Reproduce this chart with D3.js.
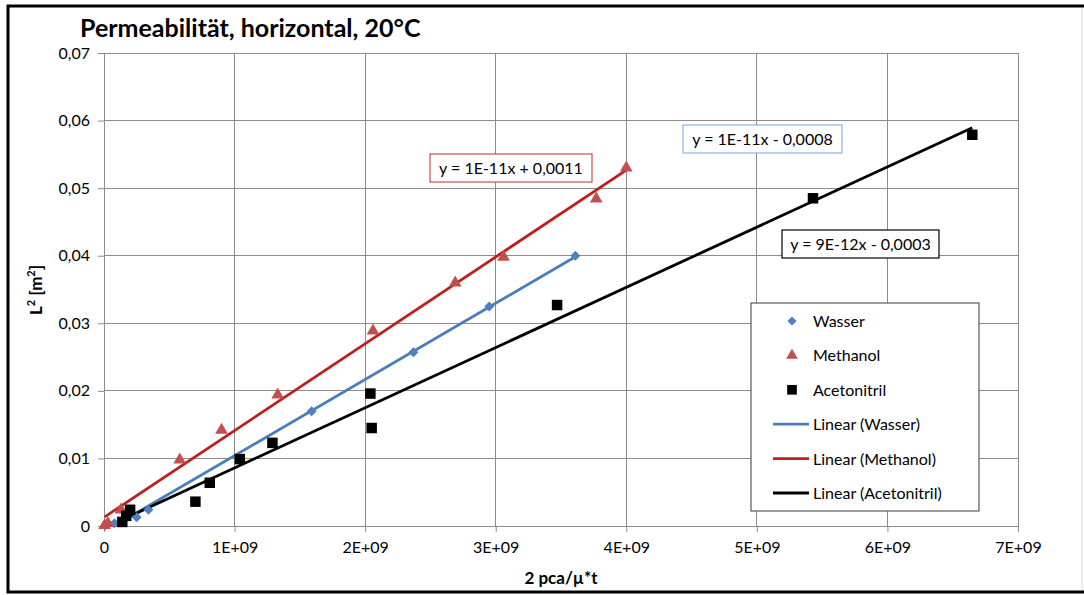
<!DOCTYPE html>
<html>
<head>
<meta charset="utf-8">
<script src="https://cdn.jsdelivr.net/npm/d3@7"></script>
<style>
  body { margin: 0; background: #fff; }
  text { font-family: Lato, "Open Sans", sans-serif; }
</style>
</head>
<body>
<div id="chart"></div>
<script>
// x in units of 1E+09, y in m^2
const wasserX = [0.01, 0.08, 0.25, 0.34, 1.59, 2.37, 2.95, 3.61];
const wasserY = [0.0001, 0.0004, 0.0013, 0.0024, 0.0170, 0.0257, 0.0325, 0.0400];

const methanolX = [0.005, 0.03, 0.13, 0.58, 0.90, 1.33, 2.06, 2.69, 3.06, 3.77, 4.00];
const methanolY = [0.0001, 0.0004, 0.0024, 0.0098, 0.0142, 0.0194, 0.0289, 0.0360, 0.0398, 0.0484, 0.0530];

const acetoX = [0.14, 0.17, 0.20, 0.70, 0.81, 1.04, 1.29, 2.04, 2.05, 3.47, 5.43, 6.65];
const acetoY = [0.0006, 0.0015, 0.0024, 0.0036, 0.0064, 0.0099, 0.0123, 0.0196, 0.0145, 0.0327, 0.0485, 0.0579];

const xTicks = [0, 1, 2, 3, 4, 5, 6, 7];
const yTicks = [0, 0.01, 0.02, 0.03, 0.04, 0.05, 0.06, 0.07];

const legendNames = ["Wasser", "Methanol", "Acetonitril", "Linear (Wasser)", "Linear (Methanol)", "Linear (Acetonitril)"];
const equations = ["y = 1E-11x - 0,0008", "y = 1E-11x + 0,0011", "y = 9E-12x - 0,0003"];

const W = 1084, H = 595;
const svg = d3.select("#chart").append("svg").attr("width", W).attr("height", H);

// outer frame
svg.append("rect").attr("x", 8).attr("y", 6).attr("width", 1085).attr("height", 586)
  .attr("fill", "none").attr("stroke", "#000").attr("stroke-width", 3);
svg.append("line").attr("x1", 1082).attr("x2", 1082).attr("y1", 8).attr("y2", 590)
  .attr("stroke", "#d9d9d9").attr("stroke-width", 1);

const x = d3.scaleLinear().domain([0, 7]).range([104, 1018]);
const y = d3.scaleLinear().domain([0, 0.07]).range([526, 53]);

// gridlines
const grid = svg.append("g").attr("stroke", "#8c8c8c").attr("stroke-width", 1).attr("shape-rendering", "crispEdges");
grid.selectAll(".gx").data(xTicks.slice(1)).join("line")
  .attr("x1", d => x(d)).attr("x2", d => x(d)).attr("y1", y(0)).attr("y2", y(0.07));
grid.selectAll(".gy").data(yTicks.slice(1)).join("line")
  .attr("x1", x(0)).attr("x2", x(7)).attr("y1", d => y(d)).attr("y2", d => y(d));

// axes
const fmtY = d => d === 0 ? "0" : d3.format(".2f")(d).replace(".", ",");
const fmtX = d => d === 0 ? "0" : d + "E+09";

const yAxis = svg.append("g").attr("transform", `translate(${x(0)},0)`)
  .call(d3.axisLeft(y).tickValues(yTicks).tickFormat(fmtY).tickSize(6).tickPadding(8));
const xAxis = svg.append("g").attr("transform", `translate(0,${y(0)})`)
  .call(d3.axisBottom(x).tickValues(xTicks).tickFormat(fmtX).tickSize(6).tickPadding(10));
[yAxis, xAxis].forEach(a => {
  a.select(".domain").attr("stroke", "#8c8c8c");
  a.selectAll(".tick line").attr("stroke", "#8c8c8c");
  a.selectAll("text").attr("font-size", 16).attr("fill", "#000")
    .style("font-family", "Lato, sans-serif");
});

// linear regression
function fit(xs, ys) {
  const mx = d3.mean(xs), my = d3.mean(ys);
  let sxy = 0, sxx = 0;
  xs.forEach((v, i) => { sxy += (v - mx) * (ys[i] - my); sxx += (v - mx) * (v - mx); });
  const m = sxy / sxx;
  return { m, b: my - m * mx, x0: d3.min(xs), x1: d3.max(xs) };
}

svg.append("clipPath").attr("id", "plot").append("rect")
  .attr("x", x(0)).attr("y", y(0.07)).attr("width", x(7) - x(0)).attr("height", y(0) - y(0.07));

// diamond = square turned by 45 degrees
const series = [
  { xs: wasserX, ys: wasserY, mark: "#4f81bd", line: "#4a7ebb", sym: d3.symbolSquare, rot: 45, size: 50 },
  { xs: methanolX, ys: methanolY, mark: "#c0504d", line: "#be1e1e", sym: d3.symbolTriangle, rot: 0, size: 70 },
  { xs: acetoX, ys: acetoY, mark: "#000000", line: "#000000", sym: d3.symbolSquare, rot: 0, size: 110 }
];

const lines = svg.append("g").attr("clip-path", "url(#plot)");
const marks = svg.append("g");
series.forEach(s => {
  s.fit = fit(s.xs, s.ys);
  marks.selectAll(null).data(s.xs.map((v, i) => [v, s.ys[i]])).join("path")
    .attr("transform", d => `translate(${x(d[0])},${y(d[1])}) rotate(${s.rot})`)
    .attr("d", d3.symbol(s.sym, s.size))
    .attr("fill", s.mark);
});
series.forEach(s => {
  const f = s.fit;
  lines.append("line")
    .attr("x1", x(f.x0)).attr("y1", y(f.m * f.x0 + f.b))
    .attr("x2", x(f.x1)).attr("y2", y(f.m * f.x1 + f.b))
    .attr("stroke", s.line).attr("stroke-width", 2.8);
});

// equation labels
const eqBoxes = [
  { text: equations[0], x: 683, y: 125, w: 159, stroke: "#8db3e2" },
  { text: equations[1], x: 430, y: 154, w: 162, stroke: "#c0504d" },
  { text: equations[2], x: 782, y: 230, w: 157, stroke: "#000" }
];
const eq = svg.append("g").selectAll("g").data(eqBoxes).join("g");
eq.append("rect").attr("x", d => d.x).attr("y", d => d.y).attr("width", d => d.w).attr("height", 28)
  .attr("fill", "#fff").attr("stroke", d => d.stroke).attr("stroke-width", 1.2);
eq.append("text").attr("x", d => d.x + d.w / 2).attr("y", d => d.y + 20)
  .attr("text-anchor", "middle").attr("font-size", 16).text(d => d.text);

// legend
const leg = svg.append("g");
leg.append("rect").attr("x", 751).attr("y", 303).attr("width", 228).attr("height", 208)
  .attr("fill", "#fff").attr("stroke", "#595959").attr("stroke-width", 1.2);
const legItems = leg.selectAll("g").data(legendNames).join("g")
  .attr("transform", (d, i) => `translate(0,${321 + i * 34.4})`);
legItems.append("text").attr("x", 813).attr("y", 6).attr("font-size", 16).text(d => d);
legItems.each(function(d, i) {
  const g = d3.select(this);
  const s = series[i % 3];
  if (i < 3) {
    g.append("path").attr("transform", `translate(792,0) rotate(${s.rot})`)
      .attr("d", d3.symbol(s.sym, s.size * 0.85)).attr("fill", s.mark);
  } else {
    g.append("line").attr("x1", 773).attr("x2", 809).attr("y1", 0).attr("y2", 0)
      .attr("stroke", s.line).attr("stroke-width", 2.8);
  }
});

// titles
svg.append("text").attr("x", 80).attr("y", 37).attr("font-size", 25).attr("font-weight", "bold")
  .text("Permeabilität, horizontal, 20°C");
svg.append("text").attr("x", 561).attr("y", 584).attr("text-anchor", "middle")
  .attr("font-size", 17).attr("font-weight", "bold").text("2 pca/µ*t");
const yl = svg.append("text").attr("transform", "translate(42,290) rotate(-90)")
  .attr("text-anchor", "middle").attr("font-size", 17).attr("font-weight", "bold");
yl.append("tspan").text("L");
yl.append("tspan").attr("font-size", 11).attr("dy", -7).text("2");
yl.append("tspan").attr("dy", 7).text(" [m");
yl.append("tspan").attr("font-size", 11).attr("dy", -7).text("2");
yl.append("tspan").attr("dy", 7).text("]");
</script>
</body>
</html>
